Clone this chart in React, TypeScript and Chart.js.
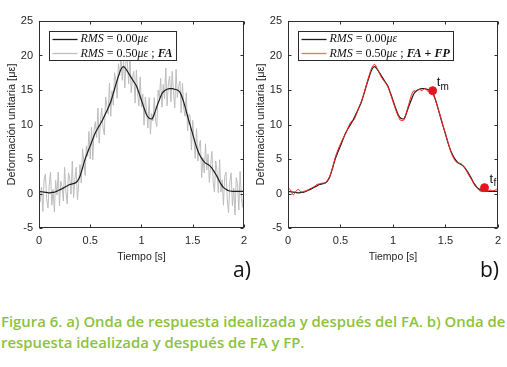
import React, { useEffect, useRef } from 'react';
import { Chart, registerables } from 'chart.js';

Chart.register(...registerables);

// ---------- data ----------
const DT_SMOOTH = 0.025; // sampling step of the smooth series [s]
const DT_NOISY = 0.0125; // sampling step of the noisy FA series [s]

const RESPONSE_IDEAL = [
  0.3, 0.25, 0.2, 0.15, 0.1, 0.15, 0.2, 0.35, 0.5, 0.7,
  0.9, 1.1, 1.3, 1.4, 1.5, 1.8, 2.5, 3.7, 5.0, 6.0,
  6.9, 7.9, 8.8, 9.5, 10.1, 10.8, 11.6, 12.4, 13.3, 14.5,
  15.8, 17.0, 18.0, 18.4, 18.0, 17.4, 16.8, 16.2, 15.6, 14.6,
  13.5, 12.4, 11.4, 10.9, 10.8, 11.5, 12.6, 13.6, 14.5, 14.9,
  15.1, 15.2, 15.2, 15.1, 15.0, 14.7, 13.8, 12.6, 11.2, 9.9,
  8.6, 7.3, 6.2, 5.4, 4.8, 4.4, 4.2, 3.9, 3.4, 2.8,
  2.1, 1.4, 0.9, 0.6, 0.4, 0.35, 0.3, 0.3, 0.3, 0.3,
  0.3,
];

const RESPONSE_FA = [
  2.5, -1.2, 0.9, -2.6, 2.1, 2.8, -0.8, -2.1, 1.2, 3.1,
  -1.7, 0.6, -2.7, 1.9, -0.2, 3.1, -1.8, 1.8, 1.0, -1.1,
  3.8, 0.3, -1.5, 3.0, 2.2, -0.1, 4.7, -0.6, 2.0, 3.8,
  -0.9, 1.4, 4.2, 1.5, 6.5, 4.6, 2.6, 6.9, 5.4, 9.0,
  5.0, 9.6, 4.9, 9.2, 10.4, 8.1, 12.4, 7.3, 10.4, 12.4,
  9.5, 8.5, 14.0, 12.7, 11.5, 16.0, 11.2, 14.9, 12.8, 17.5,
  16.3, 13.8, 18.8, 17.1, 19.9, 16.4, 19.3, 15.3, 19.7, 18.9,
  15.9, 19.8, 14.6, 16.9, 17.7, 13.1, 17.9, 14.5, 12.7, 16.9,
  12.5, 14.4, 9.9, 14.0, 12.0, 9.5, 13.9, 8.6, 11.6, 10.5,
  13.9, 10.5, 9.7, 15.0, 13.9, 16.7, 12.5, 15.8, 13.7, 18.2,
  12.7, 15.9, 17.0, 13.3, 17.7, 14.7, 12.4, 18.0, 13.9, 15.5,
  16.3, 11.7, 16.0, 12.4, 11.2, 14.6, 9.1, 11.5, 11.2, 6.3,
  10.6, 7.7, 5.1, 9.4, 4.7, 6.8, 7.7, 2.3, 5.2, 3.0,
  7.2, 3.4, 5.7, 1.6, 4.1, 6.1, 1.6, 0.2, 4.7, 3.2,
  0.1, 4.9, 0.2, 2.0, -1.7, 2.5, 3.1, -0.9, -2.8, 1.7,
  3.0, -1.8, 0.8, -3.1, 2.3, 1.4, -2.4, 3.2, -0.7, -2.0,
  0.9,
];

const RESPONSE_FA_FP = [
  0.8, 0.5, -0.2, 0.3, 0.6, 0.2, 0.3, 0.4, 0.6, 0.8,
  1.0, 1.3, 1.4, 1.5, 1.5, 1.9, 2.6, 3.8, 5.2, 6.3,
  7.2, 8.0, 8.7, 9.6, 10.4, 10.6, 11.4, 12.5, 13.4, 14.6,
  15.9, 17.2, 18.3, 18.7, 18.1, 17.3, 16.6, 16.1, 15.5, 14.5,
  13.3, 12.2, 11.2, 10.6, 10.6, 11.6, 12.9, 14.2, 14.9, 14.8,
  15.1, 14.9, 15.2, 14.9, 14.7, 14.6, 13.8, 12.5, 11.3, 9.9,
  8.7, 7.4, 6.1, 5.2, 4.6, 4.4, 4.3, 3.9, 3.3, 2.6,
  2.0, 1.3, 0.8, 0.4, 0.3, 0.5, 0.3, 0.5, 0.4, 0.5,
  0.8,
];

const MARK_TIMES = [1.378, 1.872];
const MARK_VALUES = [14.9, 0.85];
const MARK_NAMES = ['m', 'f'];

const X_TICKS = [0, 0.5, 1, 1.5, 2];
const Y_TICKS = [-5, 0, 5, 10, 15, 20, 25];

const LEGEND_IDEAL = 'RMS = 0.00με';
const LEGEND_FA = 'RMS = 0.50με ; FA';
const LEGEND_FA_FP = 'RMS = 0.50με ; FA + FP';

const X_TITLE = 'Tiempo [s]';
const Y_TITLE = 'Deformación unitaria [με]';
const CAPTION_1 = 'Figura 6. a) Onda de respuesta idealizada y después del FA. b) Onda de';
const CAPTION_2 = 'respuesta idealizada y después de FA y FP.';

// ---------- styles ----------
const C_IDEAL = '#1c1c1c';
const C_FA = '#bcbcbc';
const C_FP = '#ff1c1c';
const C_MARK = '#e3161f';
const C_AXIS = '#2e2e2e';
const C_TEXT = '#262626';
const C_CAPTION = '#8cc23f';
const SANS = '"Liberation Sans", Arial, sans-serif';
const SERIF = '"Liberation Serif", "DejaVu Serif", serif';

const toPts = (vals: number[], dt: number) =>
  vals.map((y, i) => ({ x: Math.round(i * dt * 10000) / 10000, y }));

// LaTeX-like legend text: split into italic / roman / bold segments
function legendSegs(label: string): [string, string][] {
  const segs: [string, string][] = [];
  const fI = `italic 12px ${SERIF}`;
  const fR = `12px ${SERIF}`;
  const fBI = `italic bold 12px ${SERIF}`;
  const fB = `bold 12px ${SERIF}`;
  const m = label.match(/^(RMS)( = [0-9.]+)(με)(.*)$/);
  if (!m) return [[label, fR]];
  segs.push([m[1], fI], [m[2], fR], [m[3], fI]);
  const rest = m[4];
  if (rest) {
    const parts = rest.split(/(FA|FP)/).filter((p) => p.length);
    for (const p of parts) {
      if (p === 'FA' || p === 'FP') segs.push([p, fBI]);
      else if (p.includes('+')) segs.push([p, fB]);
      else segs.push([p, fR]);
    }
  }
  return segs;
}

const decoPlugin = {
  id: 'deco',
  afterDraw(chart: any, _args: any, opts: any) {
    const { ctx, chartArea: a, scales } = chart;
    ctx.save();
    // frame with inward ticks on all sides
    ctx.strokeStyle = C_AXIS;
    ctx.lineWidth = 1;
    const L = Math.round(a.left) + 0.5;
    const R = Math.round(a.right) - 0.5;
    const T = Math.round(a.top) + 0.5;
    const B = Math.round(a.bottom) - 0.5;
    ctx.strokeRect(L, T, R - L, B - T);
    ctx.beginPath();
    const tl = 3;
    for (const v of X_TICKS) {
      const px = Math.round(scales.x.getPixelForValue(v)) + 0.5;
      ctx.moveTo(px, B); ctx.lineTo(px, B - tl);
      ctx.moveTo(px, T); ctx.lineTo(px, T + tl);
    }
    for (const v of Y_TICKS) {
      const py = Math.round(scales.y.getPixelForValue(v)) + 0.5;
      ctx.moveTo(L, py); ctx.lineTo(L + tl, py);
      ctx.moveTo(R, py); ctx.lineTo(R - tl, py);
    }
    ctx.stroke();

    // marker labels t_m, t_f
    if (opts.marks) {
      ctx.fillStyle = '#111';
      ctx.textBaseline = 'alphabetic';
      ctx.textAlign = 'left';
      MARK_TIMES.forEach((t, i) => {
        const px = scales.x.getPixelForValue(t);
        const py = scales.y.getPixelForValue(MARK_VALUES[i]);
        const [dx, dy, sdy] = i === 0 ? [4, -5, 4] : [5, -4.5, 2.5];
        ctx.font = `13px ${SANS}`;
        ctx.fillText('t', px + dx, py + dy);
        const w = ctx.measureText('t').width;
        ctx.font = `10px ${SANS}`;
        ctx.fillText(MARK_NAMES[i], px + dx + w + 0.3, py + dy + sdy);
      });
    }

    // legend box
    const items: { color: string; label: string }[] = opts.legend || [];
    if (items.length) {
      const bx = Math.round(a.left) + 10.5;
      const by = Math.round(a.top) + 10.5;
      const rowH = 14.5;
      const txtX = bx + 31;
      let maxW = 0;
      const segsList = items.map((it) => legendSegs(it.label));
      segsList.forEach((segs) => {
        let w = 0;
        for (const [s, f] of segs) { ctx.font = f; w += ctx.measureText(s).width; }
        maxW = Math.max(maxW, w);
      });
      const bw = Math.round(txtX - bx + maxW + 4);
      const bh = 29;
      ctx.fillStyle = '#ffffff';
      ctx.fillRect(bx, by, bw, bh);
      ctx.strokeStyle = '#2a2a2a';
      ctx.lineWidth = 1;
      ctx.strokeRect(bx, by, bw, bh);
      items.forEach((it, i) => {
        const y = by + 7 + i * rowH;
        ctx.strokeStyle = it.color;
        ctx.lineWidth = 1.3;
        ctx.beginPath();
        ctx.moveTo(bx + 3, Math.round(y) + 0.5);
        ctx.lineTo(bx + 28, Math.round(y) + 0.5);
        ctx.stroke();
        ctx.fillStyle = '#111';
        ctx.textBaseline = 'middle';
        let x = txtX;
        for (const [s, f] of segsList[i]) {
          ctx.font = f;
          ctx.fillText(s, x, y + 0.5);
          x += ctx.measureText(s).width;
        }
      });
    }
    ctx.restore();
  },
};

function makeConfig(kind: 'a' | 'b', padRight: number): any {
  const datasets: any[] =
    kind === 'a'
      ? [
          {
            label: LEGEND_IDEAL,
            data: toPts(RESPONSE_IDEAL, DT_SMOOTH),
            borderColor: C_IDEAL,
            borderWidth: 1.2,
            pointRadius: 0,
            cubicInterpolationMode: 'monotone',
          },
          {
            label: LEGEND_FA,
            data: toPts(RESPONSE_FA, DT_NOISY),
            borderColor: C_FA,
            borderWidth: 1,
            pointRadius: 0,
            tension: 0,
          },
        ]
      : [
          {
            type: 'scatter',
            label: 'marks',
            data: MARK_TIMES.map((t, i) => ({ x: t, y: MARK_VALUES[i] })),
            backgroundColor: C_MARK,
            borderColor: C_MARK,
            pointRadius: 4,
            showLine: false,
          },
          {
            label: LEGEND_FA_FP,
            data: toPts(RESPONSE_FA_FP, DT_SMOOTH),
            borderColor: C_FP,
            borderWidth: 1,
            pointRadius: 0,
            cubicInterpolationMode: 'monotone',
          },
          {
            label: LEGEND_IDEAL,
            data: toPts(RESPONSE_IDEAL, DT_SMOOTH),
            borderColor: C_IDEAL,
            borderWidth: 1.2,
            pointRadius: 0,
            cubicInterpolationMode: 'monotone',
          },
        ];
  return {
    type: 'line',
    data: { datasets },
    options: {
      animation: false,
      responsive: false,
      devicePixelRatio: 1,
      layout: { padding: { left: 0, right: padRight, top: 21, bottom: 0 } },
      plugins: {
        legend: { display: false },
        tooltip: { enabled: false },
        deco: {
          legend:
            kind === 'a'
              ? [
                  { color: C_IDEAL, label: LEGEND_IDEAL },
                  { color: C_FA, label: LEGEND_FA },
                ]
              : [
                  { color: C_IDEAL, label: LEGEND_IDEAL },
                  { color: '#ff6a6a', label: LEGEND_FA_FP },
                ],
          marks: kind === 'b',
        },
      },
      scales: {
        x: {
          type: 'linear',
          min: 0,
          max: 2,
          grid: { display: false, drawTicks: false },
          border: { display: false },
          afterBuildTicks: (s: any) => { s.ticks = X_TICKS.map((v) => ({ value: v })); },
          ticks: {
            color: C_TEXT,
            font: { family: SANS, size: 11 },
            padding: 6,
            maxRotation: 0,
            callback: (v: any) => String(v),
          },
          title: {
            display: true,
            text: X_TITLE,
            color: C_TEXT,
            font: { family: SANS, size: 10.5 },
            padding: { top: 0, bottom: 26.7 },
          },
          afterFit: (s: any) => { s.height = 62; },
        },
        y: {
          type: 'linear',
          min: -5,
          max: 25,
          grid: { display: false, drawTicks: false },
          border: { display: false },
          afterBuildTicks: (s: any) => { s.ticks = Y_TICKS.map((v) => ({ value: v })); },
          ticks: {
            color: C_TEXT,
            font: { family: SANS, size: 11 },
            padding: 6,
            callback: (v: any) => String(v),
          },
          title: {
            display: true,
            text: Y_TITLE,
            color: C_TEXT,
            font: { family: SANS, size: 11 },
            padding: { top: 5.4, bottom: 0 },
          },
          afterFit: (s: any) => { s.width = 39; },
        },
      },
    },
    plugins: [decoPlugin],
  };
}

export default function App() {
  const refA = useRef<HTMLCanvasElement>(null);
  const refB = useRef<HTMLCanvasElement>(null);
  const cap1 = useRef<HTMLDivElement>(null);
  const cap2 = useRef<HTMLDivElement>(null);

  useEffect(() => {
    const a = new Chart(refA.current!, makeConfig('a', 5));
    const b = new Chart(refB.current!, makeConfig('b', 9));
    // fit caption width like the original condensed typeface
    if (cap1.current && cap2.current) {
      const w = cap1.current.scrollWidth;
      const k = w > 0 ? 504 / w : 1;
      cap1.current.style.transform = `scaleX(${k})`;
      cap2.current.style.transform = `scaleX(${k})`;
    }
    return () => {
      a.destroy();
      b.destroy();
    };
  }, []);

  const capStyle: React.CSSProperties = {
    position: 'absolute',
    left: 1,
    whiteSpace: 'nowrap',
    fontFamily: '"Open Sans", sans-serif',
    fontWeight: 600,
    fontSize: 13.5,
    lineHeight: '13.5px',
    color: C_CAPTION,
    transformOrigin: '0 0',
  };
  const tagStyle: React.CSSProperties = {
    position: 'absolute',
    fontFamily: '"Open Sans", sans-serif',
    fontSize: 21,
    lineHeight: '21px',
    color: '#111',
  };

  return (
    <div
      style={{
        position: 'fixed',
        left: 0,
        top: 0,
        width: 507,
        height: 367,
        background: '#fff',
        overflow: 'hidden',
      }}
    >
      <canvas ref={refA} width={253} height={290} style={{ position: 'absolute', left: 0, top: 0 }} />
      <canvas ref={refB} width={258} height={290} style={{ position: 'absolute', left: 249, top: 0 }} />
      <div style={{ ...tagStyle, left: 233, top: 259 }}>a)</div>
      <div style={{ ...tagStyle, left: 480, top: 259 }}>b)</div>
      <div ref={cap1} style={{ ...capStyle, top: 315.7 }}>{CAPTION_1}</div>
      <div ref={cap2} style={{ ...capStyle, top: 337.3 }}>{CAPTION_2}</div>
    </div>
  );
}
